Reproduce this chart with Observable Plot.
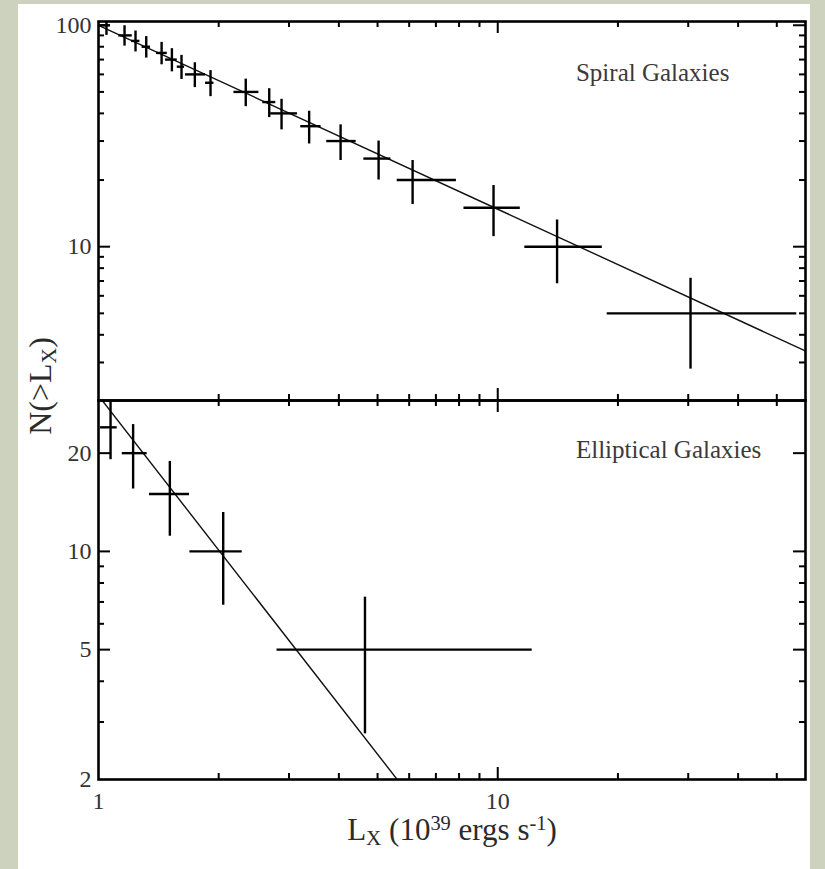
<!DOCTYPE html>
<html>
<head>
<meta charset="utf-8">
<script src="https://cdn.jsdelivr.net/npm/d3@7"></script>
<script src="https://cdn.jsdelivr.net/npm/@observablehq/plot@0.6"></script>
<style>
  html, body { margin: 0; padding: 0; }
  body { background: #ccd2bd; width: 825px; height: 869px; position: relative; overflow: hidden;
         font-family: "Liberation Serif", "Times New Roman", serif; }
  #paper { position: absolute; left: 18px; top: 4px; width: 792px; height: 865px; background: #fff; }
  #top, #bottom { position: absolute; left: 0; }
  #top { top: 0; }
  #bottom { top: 400px; }
  .title { position: absolute; white-space: nowrap; color: #2b2b2b; line-height: 1; }
  .title sub { font-size: 0.68em; vertical-align: baseline; position: relative; top: 0.22em; }
  .title sup { font-size: 0.66em; vertical-align: baseline; position: relative; top: -0.5em; }
  #ylabel { left: 40px; top: 386px; font-size: 32px; transform: translate(-50%, -50%) rotate(-90deg); }
  #xlabel { left: 452px; top: 814px; font-size: 31px; transform: translateX(-50%); }
</style>
</head>
<body>
<div id="paper"></div>
<div id="top"></div>
<div id="bottom"></div>
<div class="title" id="ylabel">N(&gt;L<sub>X</sub>)</div>
<div class="title" id="xlabel">L<sub>X</sub> (10<sup>39</sup> ergs s<sup>-1</sup>)</div>
<script>
// ---------- data: spiral galaxies ----------
const spiralL   = [1.047, 1.162, 1.238, 1.317, 1.439, 1.527, 1.614, 1.743, 1.908, 2.338, 2.677, 2.874, 3.37, 4.04, 5.03, 6.12, 9.76, 14.08, 30.4];
const spiralLlo = [1.012, 1.124, 1.21, 1.286, 1.397, 1.472, 1.575, 1.652, 1.854, 2.184, 2.58, 2.70, 3.21, 3.73, 4.62, 5.60, 8.23, 11.69, 18.8];
const spiralLhi = [1.07, 1.215, 1.27, 1.35, 1.487, 1.575, 1.643, 1.854, 1.946, 2.522, 2.78, 3.15, 3.61, 4.42, 5.40, 7.88, 11.39, 18.28, 56.1];
const spiralN   = [100, 90, 85, 80, 75, 70, 65, 60, 55, 50, 45, 40, 35, 30, 25, 20, 15, 10, 5];
const spiralErr = [10, 9.5, 9.2, 8.9, 8.7, 8.4, 8.1, 7.7, 7.4, 7.1, 6.7, 6.3, 5.9, 5.5, 5.0, 4.5, 3.9, 3.2, 2.2];
const spiralFitL = [1, 59];
const spiralFitN = [100, 3.38];

// ---------- data: elliptical galaxies ----------
const ellL   = [1.072, 1.221, 1.509, 2.053, 4.65];
const ellLlo = [1.012, 1.147, 1.342, 1.694, 2.80];
const ellLhi = [1.114, 1.324, 1.69, 2.291, 12.2];
const ellN   = [24, 20, 15, 10, 5];
const ellErr = [4.9, 4.47, 3.87, 3.16, 2.24];
const ellFitL = [1, 5.6];
const ellFitN = [30, 2];

// ---------- axes ----------
const xDomain = [1, 59];
const xMajorTicks = [10];
const xMinorTicks = [2, 3, 4, 5, 6, 7, 8, 9, 20, 30, 40, 50];
const xTickLabels = [1, 10];

const topDomain = [2.02, 104];
const topMajorTicks = [10, 100];
const topMinorTicks = [3, 4, 5, 6, 7, 8, 9, 20, 30, 40, 50, 60, 70, 80, 90];
const topTickLabels = [10, 100];

const botDomain = [2, 29];
const botMajorTicks = [5, 10, 20];
const botMinorTicks = [3, 4, 6, 7, 8, 9];
const botTickLabels = [2, 5, 10, 20];

const panelTitles = ["Spiral Galaxies", "Elliptical Galaxies"];
const titleL = [15.7, 15.7];
const titleN = [61, 20.5];

// ---------- styling ----------
const W = 825, mL = 98, mR = 20;
const frameW = W - mL - mR, frameH = 379;
const LONG = 12, SHORT = 6;
const serif = "Liberation Serif, Times New Roman, serif";
const ink = "#000";

function ticks(ys, {top, bottom}) {
  const st = {stroke: ink, strokeWidth: 2};
  const m = [];
  const xt = [[xMajorTicks, LONG], [xMinorTicks, SHORT]];
  const yt = [[ys[0], LONG], [ys[1], SHORT]];
  for (const [vals, len] of xt) {
    if (top) m.push(Plot.tickX(vals, {x: d => d, insetBottom: frameH - len, ...st}));
    if (bottom) m.push(Plot.tickX(vals, {x: d => d, insetTop: frameH - len, ...st}));
  }
  for (const [vals, len] of yt) {
    m.push(Plot.tickY(vals, {y: d => d, insetRight: frameW - len, ...st}));
    m.push(Plot.tickY(vals, {y: d => d, insetLeft: frameW - len, ...st}));
  }
  return m;
}

function dataMarks(L, Llo, Lhi, N, E, fitL, fitN, k) {
  const idx = d3.range(L.length);
  const fit = fitL.map((d, i) => ({L: d, N: fitN[i]}));
  return [
    Plot.line(fit, {x: "L", y: "N", stroke: "#111", strokeWidth: 1.4, clip: true}),
    Plot.ruleY(idx, {y: i => N[i], x1: i => Llo[i], x2: i => Lhi[i], stroke: ink, strokeWidth: 2.4, clip: true}),
    Plot.ruleX(idx, {x: i => L[i], y1: i => N[i] - E[i], y2: i => N[i] + E[i], stroke: ink, strokeWidth: 2.4, clip: true}),
    Plot.text([k], {x: i => titleL[i], y: i => titleN[i], text: i => panelTitles[i], textAnchor: "start",
      fontSize: 25, fontFamily: serif, fill: "#3a3a3a"})
  ];
}

const labelStyle = {fontSize: 24, fontFamily: serif, fill: "#333", label: null, tickFormat: d => String(d)};

const topPlot = Plot.plot({
  width: W, height: 400, marginLeft: mL, marginRight: mR, marginTop: 21, marginBottom: 0,
  style: {background: "transparent", overflow: "visible"},
  x: {type: "log", domain: xDomain, axis: null},
  y: {type: "log", domain: topDomain, axis: null},
  marks: [
    ...dataMarks(spiralL, spiralLlo, spiralLhi, spiralN, spiralErr, spiralFitL, spiralFitN, 0),
    ...ticks([topMajorTicks, topMinorTicks], {top: true, bottom: true}),
    Plot.axisY(topTickLabels, {tickSize: 0, tickPadding: 7, ...labelStyle}),
    Plot.frame({stroke: ink, strokeWidth: 2.6})
  ]
});

const botPlot = Plot.plot({
  width: W, height: 469, marginLeft: mL, marginRight: mR, marginTop: 0, marginBottom: 90,
  style: {background: "transparent", overflow: "visible"},
  x: {type: "log", domain: xDomain, axis: null},
  y: {type: "log", domain: botDomain, axis: null},
  marks: [
    ...dataMarks(ellL, ellLlo, ellLhi, ellN, ellErr, ellFitL, ellFitN, 1),
    ...ticks([botMajorTicks, botMinorTicks], {top: true, bottom: true}),
    Plot.axisY(botTickLabels, {tickSize: 0, tickPadding: 7, ...labelStyle}),
    Plot.axisX(xTickLabels, {tickSize: 0, tickPadding: 12, ...labelStyle}),
    Plot.frame({stroke: ink, strokeWidth: 2.6})
  ]
});

document.getElementById("top").appendChild(topPlot);
document.getElementById("bottom").appendChild(botPlot);
</script>
</body>
</html>
